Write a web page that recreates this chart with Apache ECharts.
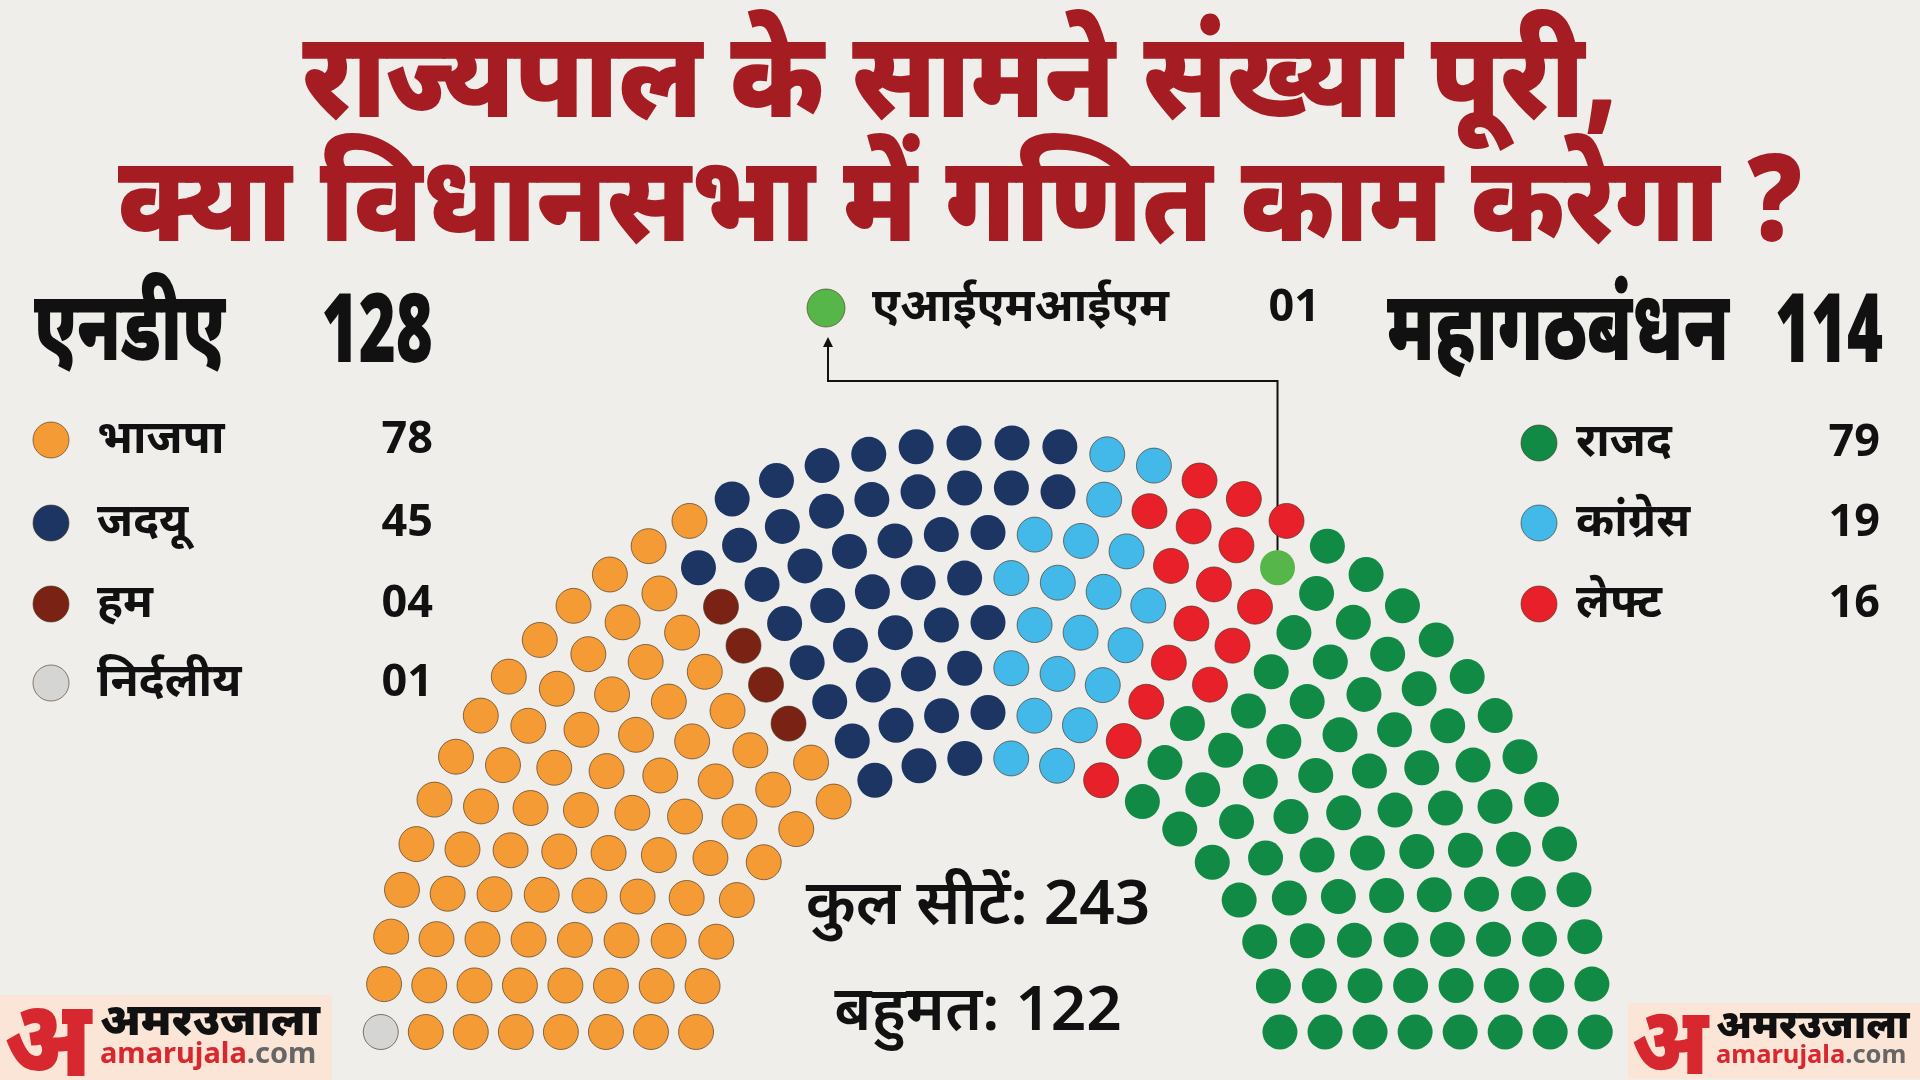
<!DOCTYPE html>
<html><head><meta charset="utf-8">
<script src="https://cdn.jsdelivr.net/npm/echarts@6/dist/echarts.min.js"></script>
<style>html,body{margin:0;padding:0;background:#f0eeea;}#main{width:1920px;height:1080px;}</style>
</head><body><div id="main"></div>
<script>
// ---------- data ----------
const parties = ['निर्दलीय','भाजपा','हम','जदयू','कांग्रेस','लेफ्ट','एआईएमआईएम','राजद'];
const seats   = [1, 78, 4, 45, 19, 16, 1, 79];
const colors  = ['#d5d5d3','#f59b36','#7a2315','#1c3563','#43b9ea','#e8202a','#56b64a','#108a45'];
// seats of each party in each arc row (inner row -> outer row), as drawn in the picture
const rowsInd   = [0,0,0,0,0,0,0,1];
const rowsBjp   = [7,8,8,9,10,11,12,13];
const rowsHam   = [0,0,1,1,1,1,0,0];
const rowsJdu   = [3,4,4,5,5,6,9,8];
const rowsCong  = [2,2,3,3,4,3,1,2];
const rowsLeft  = [1,1,1,2,2,3,3,3];
const rowsAimim = [0,0,0,0,0,0,1,0];
const rowsRjd   = [7,8,9,9,10,11,12,13];
const partyRows = [rowsInd, rowsBjp, rowsHam, rowsJdu, rowsCong, rowsLeft, rowsAimim, rowsRjd];

const ndaNames  = ['भाजपा','जदयू','हम','निर्दलीय'];
const ndaValues = ['78','45','04','01'];
const ndaColors = ['#f59b36','#1c3563','#7a2315','#d5d5d3'];
const mgbNames  = ['राजद','कांग्रेस','लेफ्ट'];
const mgbValues = ['79','19','16'];
const mgbColors = ['#108a45','#43b9ea','#e8202a'];
const aimimValue = '01';
const ndaTotal = '128', mgbTotal = '114';
const totalSeats = '243', majority = '122';
const titleLines = ['राज्यपाल के सामने संख्या पूरी,', 'क्या विधानसभा में गणित काम करेगा ?'];

// ---------- arch layout: rows of seats, parties filled left->right within each row ----------
function archLayout(){
  const nRows = partyRows[0].length;
  const rad = 0.4/nRows;
  const out = parties.map(()=>[]);
  for (let i=0;i<nRows;i++){
    const n = partyRows.reduce((s,a)=>s+a[i],0);
    const R = (3*nRows+4*(i+1)-2)/(4*nRows);
    const off = Math.asin(rad/R);
    let j = 0;
    partyRows.forEach((arr,p)=>{
      for (let c=0;c<arr[i];c++,j++){
        const a = off + j*(Math.PI-2*off)/(n-1);
        out[p].push([R, a*180/Math.PI]);
      }
    });
  }
  return out;
}
const seatData = archLayout();
const series = parties.map((p,i)=>({
  type:'scatter', coordinateSystem:'polar', name:p, data:seatData[i], symbolSize:35,
  itemStyle:{color:colors[i], borderColor:'rgba(70,50,30,0.65)', borderWidth:(i===3||i===7||i===6)?0:1, opacity:1},
  silent:true, animation:false
}));

const FONT = "'Noto Sans', 'Noto Sans Devanagari', sans-serif";
const g = [];
// title
g.push({type:'text', x:960, y:22, scaleY:1.12, style:{text:titleLines[0], fill:'#a51d23', font:`900 108px ${FONT}`, textAlign:'center', textVerticalAlign:'top'}});
g.push({type:'text', x:960, y:146, scaleY:1.12, style:{text:titleLines[1], fill:'#a51d23', font:`900 108px ${FONT}`, textAlign:'center', textVerticalAlign:'top'}});
// NDA block
g.push({type:'text', x:34, y:332, scaleX:0.84, scaleY:1.22, style:{text:'एनडीए', fill:'#111', font:`900 80px ${FONT}`, textVerticalAlign:'middle'}});
g.push({type:'text', x:433, y:335, scaleX:0.66, style:{text:ndaTotal, fill:'#111', font:`900 96px ${FONT}`, textAlign:'right', textVerticalAlign:'middle'}});
const ndaY = [440, 523, 604, 683];
ndaNames.forEach((n,i)=>{
  g.push({type:'circle', shape:{cx:51, cy:ndaY[i], r:18}, style:{fill:ndaColors[i], stroke:'rgba(70,50,30,0.6)', lineWidth:1}});
  g.push({type:'text', x:97, y:ndaY[i], style:{text:n, fill:'#111', font:`700 46px ${FONT}`, textVerticalAlign:'middle'}});
  g.push({type:'text', x:433, y:ndaY[i], style:{text:ndaValues[i], fill:'#111', font:`700 45px ${FONT}`, textAlign:'right', textVerticalAlign:'middle'}});
});
// MGB block
g.push({type:'text', x:1387, y:332, scaleX:0.87, scaleY:1.22, style:{text:'महागठबंधन', fill:'#111', font:`900 80px ${FONT}`, textVerticalAlign:'middle'}});
g.push({type:'text', x:1883, y:335, scaleX:0.64, style:{text:mgbTotal, fill:'#111', font:`900 96px ${FONT}`, textAlign:'right', textVerticalAlign:'middle'}});
const mgbY = [443, 523, 604];
mgbNames.forEach((n,i)=>{
  g.push({type:'circle', shape:{cx:1539, cy:mgbY[i], r:18}, style:{fill:mgbColors[i], stroke:'rgba(70,50,30,0.6)', lineWidth:1}});
  g.push({type:'text', x:1576, y:mgbY[i], style:{text:n, fill:'#111', font:`700 46px ${FONT}`, textVerticalAlign:'middle'}});
  g.push({type:'text', x:1880, y:mgbY[i], style:{text:mgbValues[i], fill:'#111', font:`700 45px ${FONT}`, textAlign:'right', textVerticalAlign:'middle'}});
});
// AIMIM label
g.push({type:'circle', shape:{cx:826, cy:308, r:19}, style:{fill:colors[6], stroke:'rgba(70,50,30,0.6)', lineWidth:1}});
g.push({type:'text', x:872, y:308, style:{text:parties[6], fill:'#111', font:`700 46px ${FONT}`, textVerticalAlign:'middle'}});
g.push({type:'text', x:1320, y:308, style:{text:aimimValue, fill:'#111', font:`700 45px ${FONT}`, textAlign:'right', textVerticalAlign:'middle'}});
// center text
g.push({type:'text', x:978, y:906, style:{text:'कुल सीटें: '+totalSeats, fill:'#111', font:`600 62px ${FONT}`, textAlign:'center', textVerticalAlign:'middle'}});
g.push({type:'text', x:978, y:1012, style:{text:'बहुमत: '+majority, fill:'#111', font:`600 62px ${FONT}`, textAlign:'center', textVerticalAlign:'middle'}});
// logos
function logo(x0, y0, s){
  const w = 332, h = 86;
  g.push({type:'group', x:x0, y:y0, scaleX:s, scaleY:s, children:[
    {type:'rect', shape:{x:0, y:0, width:w, height:h}, style:{fill:'#fbe5d6'}},
    {type:'text', x:4, y:50, scaleX:1.0, scaleY:1.12, style:{text:'अ', fill:'#d7282f', font:`900 96px ${FONT}`, textVerticalAlign:'middle'}},
    {type:'text', x:100, y:27, style:{text:'अमरउजाला', fill:'#111', font:`900 45px ${FONT}`, textVerticalAlign:'middle'}},
    {type:'text', x:100, y:60, style:{rich:{a:{fill:'#d7282f', font:`700 29px ${FONT}`}, b:{fill:'#666', font:`700 29px ${FONT}`}}, text:'{a|amarujala}{b|.com}', textVerticalAlign:'middle'}}
  ]});
}
logo(0, 995, 1);
logo(1628, 1003, 0.88);

const chart = echarts.init(document.getElementById('main'), null, {renderer:'canvas'});
chart.setOption({
  backgroundColor:'#f0eeea',
  animation:false,
  polar:{center:[988,1050], radius:630},
  angleAxis:{type:'value', min:0, max:360, startAngle:180, clockwise:true, show:false},
  radiusAxis:{type:'value', min:0, max:1.75, show:false},
  series: series,
  graphic: g
});
// connector from the AIMIM seat to its label
const p = chart.convertToPixel({seriesIndex:6}, seatData[6][0]);
const lineY = 381, lineX = 828;
g.push({type:'polyline', shape:{points:[[p[0], p[1]-17],[p[0], lineY],[lineX, lineY],[lineX, 344]]}, style:{stroke:'#111', lineWidth:2, fill:null}});
g.push({type:'polygon', shape:{points:[[lineX-5, 347],[lineX+5, 347],[lineX, 337]]}, style:{fill:'#111'}});
chart.setOption({graphic: g}, {replaceMerge:['graphic']});
</script></body></html>
